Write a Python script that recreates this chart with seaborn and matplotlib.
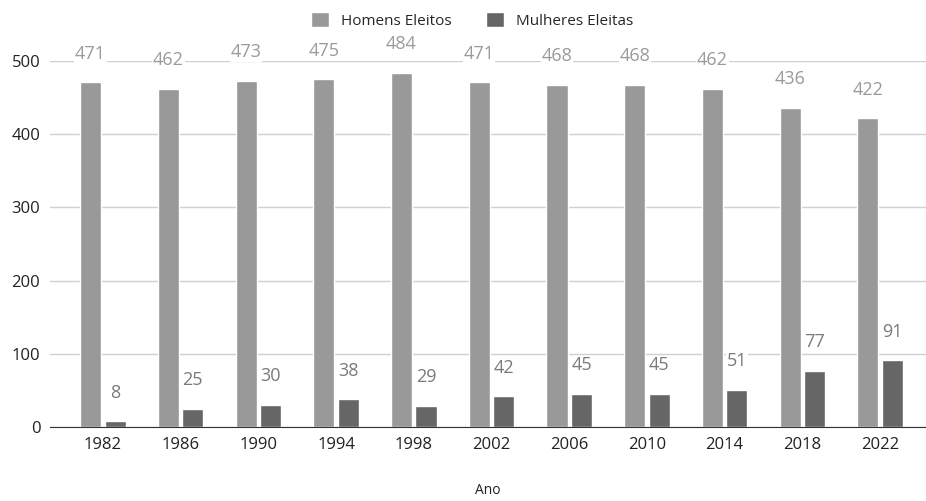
import matplotlib.pyplot as plt
import seaborn as sns
import pandas as pd

anos = ["1982", "1986", "1990", "1994", "1998", "2002", "2006", "2010", "2014", "2018", "2022"]
homens = [471, 462, 473, 475, 484, 471, 468, 468, 462, 436, 422]
mulheres = [8, 25, 30, 38, 29, 42, 45, 45, 51, 77, 91]

series = ["Homens Eleitos", "Mulheres Eleitas"]
cores = ["#999999", "#666666"]
cores_rotulo = ["#9a9a9a", "#7a7a7a"]

df = pd.DataFrame({
    "Ano": anos * 2,
    "Eleitos": homens + mulheres,
    "Grupo": [series[0]] * len(anos) + [series[1]] * len(anos),
})

sns.set_style("white")
plt.rcParams["font.family"] = ["Open Sans", "DejaVu Sans"]

fig = plt.figure(figsize=(9.26, 5.01), dpi=100)
ax = fig.add_axes([0.054, 0.148, 0.946, 0.73])

sns.barplot(data=df, x="Ano", y="Eleitos", hue="Grupo", palette=cores,
            width=0.63, gap=0.14, ax=ax, legend=True)

ax.set_xlim(-0.68, 10.59)
ax.set_ylim(0, 500)
ax.set_yticks([0, 100, 200, 300, 400, 500])
ax.yaxis.grid(True, color="#d0d0d0", linewidth=1)
ax.set_axisbelow(True)
for s in ["left", "right", "top"]:
    ax.spines[s].set_visible(False)
ax.spines["bottom"].set_color("#333333")
ax.tick_params(axis="both", length=0, labelsize=12, colors="#222222", pad=7)
ax.set_ylabel("")
ax.set_xlabel("Ano", fontsize=10, color="#222222", labelpad=22)

for cont, c in zip(ax.containers, cores_rotulo):
    labels = ax.bar_label(cont, fmt="%d", padding=14, color=c, fontsize=13)
    for t in labels:
        t.set_bbox(dict(facecolor="white", edgecolor="none", pad=0.5))
        t.set_clip_on(False)

ax.legend(loc="center", bbox_to_anchor=(0.482, 1.112), ncol=2, frameon=False,
          fontsize=11, handlelength=1.2, handleheight=1.2, columnspacing=2.2,
          handletextpad=0.8)

fig.savefig("out.png", dpi=100)
